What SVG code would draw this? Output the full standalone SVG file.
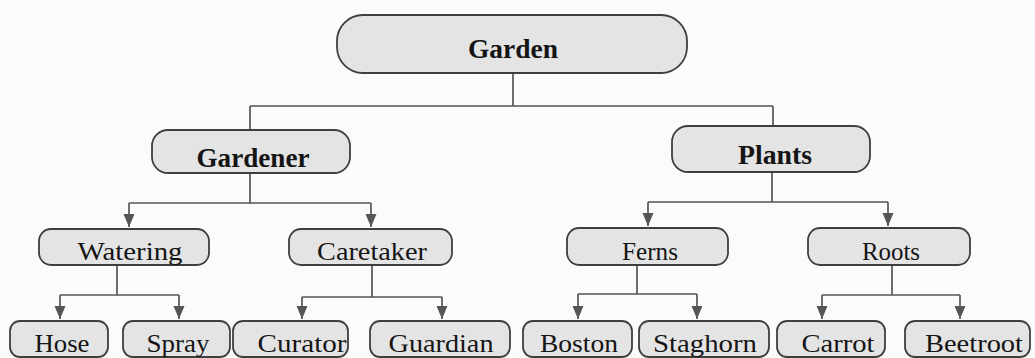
<svg xmlns="http://www.w3.org/2000/svg" width="1035" height="358" viewBox="0 0 1035 358">
<style>
.box{fill:#e4e4e4;stroke:#3f3f3f;stroke-width:1.8}
.t{font-family:"Liberation Serif","Times New Roman",serif;font-size:26px;fill:#151515;text-anchor:middle}
.b{font-weight:bold;font-size:27px}
.c{fill:none;stroke:#555;stroke-width:1.7}
</style>
<defs>
<marker id="ah" markerUnits="userSpaceOnUse" markerWidth="14" markerHeight="12" refX="13" refY="6" orient="auto" viewBox="0 0 14 12">
<path d="M0,0.5 L13,6 L0,11.5 z" fill="#555"/>
</marker>
</defs>
<rect width="1035" height="358" fill="#fbfbfb"/>
<g id="connectors">
<path class="c" d="M513 73 V106 M250 106 H773 M250 106 V130 M773 106 V126"/>
<path class="c" d="M250 173 V203 M129 203 H371"/>
<path class="c" d="M129 203 V227" marker-end="url(#ah)"/>
<path class="c" d="M371 203 V227" marker-end="url(#ah)"/>
<path class="c" d="M772 172 V202 M648 202 H888"/>
<path class="c" d="M648 202 V226" marker-end="url(#ah)"/>
<path class="c" d="M888 202 V226" marker-end="url(#ah)"/>
<path class="c" d="M117 265 V295 M60 295 H179"/>
<path class="c" d="M60 295 V319" marker-end="url(#ah)"/>
<path class="c" d="M179 295 V319" marker-end="url(#ah)"/>
<path class="c" d="M372 265 V297 M302 297 H442"/>
<path class="c" d="M302 297 V319" marker-end="url(#ah)"/>
<path class="c" d="M442 297 V319" marker-end="url(#ah)"/>
<path class="c" d="M637 265 V294 M578 294 H697"/>
<path class="c" d="M578 294 V319" marker-end="url(#ah)"/>
<path class="c" d="M697 294 V319" marker-end="url(#ah)"/>
<path class="c" d="M892 265 V295 M822 295 H960"/>
<path class="c" d="M822 295 V319" marker-end="url(#ah)"/>
<path class="c" d="M960 295 V319" marker-end="url(#ah)"/>
</g>
<g id="garden"><rect class="box" x="337" y="15" width="350" height="58" rx="26"/><text class="t b" x="513" y="58" textLength="90" lengthAdjust="spacingAndGlyphs">Garden</text></g>
<g id="gardener"><rect class="box" x="152" y="130" width="198" height="43" rx="16"/><text class="t b" x="253" y="167" textLength="113" lengthAdjust="spacingAndGlyphs">Gardener</text></g>
<g id="plants"><rect class="box" x="672" y="126" width="198" height="46" rx="16"/><text class="t b" x="775" y="164" textLength="74" lengthAdjust="spacingAndGlyphs">Plants</text></g>
<g id="watering"><rect class="box" x="39" y="229" width="170" height="36" rx="12"/><text class="t" x="130" y="260" textLength="105" lengthAdjust="spacingAndGlyphs">Watering</text></g>
<g id="caretaker"><rect class="box" x="289" y="229" width="163" height="36" rx="12"/><text class="t" x="372" y="260" textLength="110" lengthAdjust="spacingAndGlyphs">Caretaker</text></g>
<g id="ferns"><rect class="box" x="567" y="228" width="161" height="37" rx="12"/><text class="t" x="650" y="260" textLength="56" lengthAdjust="spacingAndGlyphs">Ferns</text></g>
<g id="roots"><rect class="box" x="808" y="228" width="162" height="37" rx="12"/><text class="t" x="891" y="260" textLength="58" lengthAdjust="spacingAndGlyphs">Roots</text></g>
<g id="hose"><rect class="box" x="10" y="321" width="98" height="36" rx="10"/><text class="t" x="62" y="352" textLength="55" lengthAdjust="spacingAndGlyphs">Hose</text></g>
<g id="spray"><rect class="box" x="123" y="321" width="107" height="36" rx="10"/><text class="t" x="178" y="352" textLength="63" lengthAdjust="spacingAndGlyphs">Spray</text></g>
<g id="curator"><rect class="box" x="233" y="321" width="115" height="36" rx="10"/><text class="t" x="302" y="352" textLength="89" lengthAdjust="spacingAndGlyphs">Curator</text></g>
<g id="guardian"><rect class="box" x="370" y="321" width="140" height="36" rx="10"/><text class="t" x="441" y="352" textLength="105" lengthAdjust="spacingAndGlyphs">Guardian</text></g>
<g id="boston"><rect class="box" x="523" y="321" width="109" height="36" rx="10"/><text class="t" x="579" y="352" textLength="78" lengthAdjust="spacingAndGlyphs">Boston</text></g>
<g id="staghorn"><rect class="box" x="639" y="321" width="130" height="36" rx="10"/><text class="t" x="705" y="352" textLength="104" lengthAdjust="spacingAndGlyphs">Staghorn</text></g>
<g id="carrot"><rect class="box" x="777" y="321" width="108" height="36" rx="10"/><text class="t" x="838" y="352" textLength="73" lengthAdjust="spacingAndGlyphs">Carrot</text></g>
<g id="beetroot"><rect class="box" x="905" y="321" width="125" height="36" rx="10"/><text class="t" x="974" y="352" textLength="98" lengthAdjust="spacingAndGlyphs">Beetroot</text></g>
</svg>
